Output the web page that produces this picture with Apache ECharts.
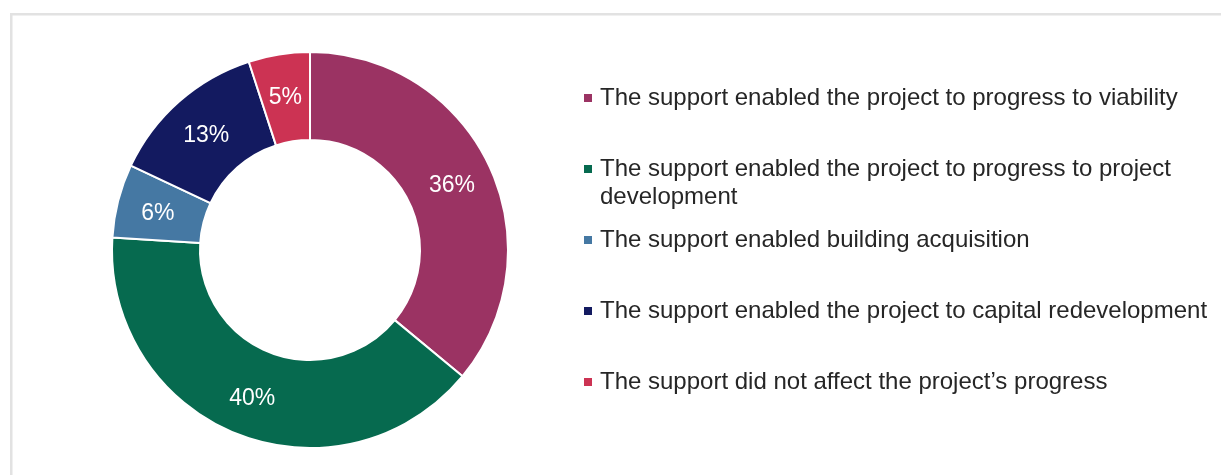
<!DOCTYPE html>
<html>
<head>
<meta charset="utf-8">
<script src="https://cdn.jsdelivr.net/npm/echarts@6/dist/echarts.min.js"></script>
<style>
html,body{margin:0;padding:0;background:#fff;}
#chart{width:1221px;height:475px;}
</style>
</head>
<body>
<div id="chart"></div>
<script>
var categories = [
  'The support enabled the project to progress to viability',
  'The support enabled the project to progress to project\ndevelopment',
  'The support enabled building acquisition',
  'The support enabled the project to capital redevelopment',
  'The support did not affect the project\u2019s progress'
];
var values = [36, 40, 6, 13, 5];
var colors = ['#9B3363', '#066A4F', '#4578A3', '#131A60', '#CC3353'];

var FONT = '"Liberation Sans", Arial, sans-serif';
var legendTops = [84, 155, 226, 297, 368];

var legends = categories.map(function (name, i) {
  var twoLine = name.indexOf('\n') >= 0;
  return {
    data: [name],
    left: 584,
    top: legendTops[i],
    orient: 'vertical',
    padding: 0,
    selectedMode: false,
    itemWidth: 8,
    itemHeight: twoLine ? 36 : 8,
    icon: twoLine ? 'path://M0,0h8v8h-8zM0,35.95h0.05v0.05h-0.05z' : 'rect',
    itemStyle: { borderWidth: 0 },
    textStyle: {
      fontFamily: FONT,
      fontSize: 24,
      color: '#262626',
      lineHeight: 28,
      padding: [0, 0, 0, 3]
    }
  };
});

var chart = echarts.init(document.getElementById('chart'), null, { renderer: 'canvas' });
chart.setOption({
  animation: false,
  color: colors,
  graphic: [{
    type: 'rect',
    shape: { x: 11.25, y: 14.25, width: 1300, height: 600 },
    style: { fill: 'none', stroke: '#e2e2e2', lineWidth: 2.5 },
    silent: true
  }],
  legend: legends,
  series: [{
    type: 'pie',
    center: [310, 250],
    radius: [110, 198],
    startAngle: 90,
    clockwise: true,
    avoidLabelOverlap: false,
    itemStyle: { borderColor: '#ffffff', borderWidth: 2 },
    label: {
      show: true,
      position: 'inside',
      formatter: '{c}%',
      color: '#ffffff',
      fontFamily: FONT,
      fontSize: 23,
      offset: [0, 3]
    },
    labelLine: { show: false },
    emphasis: { disabled: true },
    data: categories.map(function (n, i) {
      return { name: n, value: values[i] };
    })
  }]
});
</script>
</body>
</html>
